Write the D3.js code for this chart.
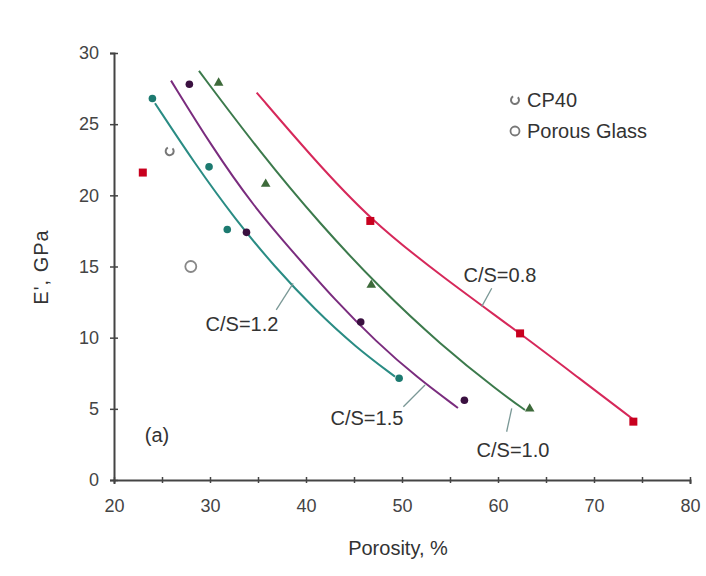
<!DOCTYPE html>
<html><head><meta charset="utf-8">
<script src="https://cdn.jsdelivr.net/npm/d3@7"></script>
<style>body{margin:0;background:#fff}svg{display:block}text{font-family:"Liberation Sans",Arial,sans-serif;fill:#333}</style>
</head><body><svg id="c" width="706" height="576"></svg>
<script>
// ---- data ----
const xTickValues = [20,25,30,35,40,45,50,55,60,65,70,75,80];
const yTickValues = [0,5,10,15,20,25,30];
// measured points [porosity %, E' GPa]
const pointsCS08 = [[23.0,21.6],[46.7,18.2],[62.3,10.3],[74.1,4.1]];
const pointsCS10 = [[30.9,27.9],[35.8,20.8],[46.8,13.7],[63.3,5.0]];
const pointsCS12 = [[24.0,26.8],[29.9,22.0],[31.8,17.6],[49.7,7.15]];
const pointsCS15 = [[27.85,27.8],[33.8,17.4],[45.7,11.1],[56.5,5.6]];
const pointsCP40 = [[25.8,23.1]];
const pointsGlass = [[28.0,15.0]];
// fitted curves
const curveCS08 = [[34.86,27.22],[40.42,22.84],[46.74,18.22],[54.48,14.13],[62.29,10.31],[68.54,7.10],[74.17,4.22]];
const curveCS10 = [[28.85,28.74],[35.21,23.03],[41.46,17.98],[47.71,13.48],[53.96,9.54],[60.21,6.16],[62.81,4.92]];
const curveCS12 = [[24.27,26.47],[28.44,22.20],[32.60,18.34],[36.77,14.95],[40.94,11.96],[45.10,9.38],[49.27,7.26]];
const curveCS15 = [[25.94,28.06],[30.21,23.40],[34.48,19.28],[38.75,15.93],[43.02,12.64],[47.29,9.73],[51.56,7.20],[55.83,5.06]];
// annotations: label text, label centre, leader start, leader end (data units)
const labels = [
  {t:"C/S=0.8", c:[60.2,14.4], a:[58.3,12.18], b:[59.35,13.47]},
  {t:"C/S=1.2", c:[33.33,10.96], a:[36.9,11.95], b:[38.66,13.82]},
  {t:"C/S=1.5", c:[46.35,4.36], a:[50.14,5.15], b:[52.4,6.68]},
  {t:"C/S=1.0", c:[61.56,2.11], a:[60.9,3.39], b:[61.43,5.04]}
];
const panelLabel = {t:"(a)", c:[24.48,3.16]};
const legendItems = ["CP40","Porous Glass"];

// ---- drawing ----
const svg = d3.select("#c");
const x = d3.scaleLinear().domain([20,80]).range([114,690]);
const y = d3.scaleLinear().domain([0,30]).range([480,53]);

const axisCol = "#444";
// y axis
const gy = svg.append("g").attr("transform","translate(114,0)")
  .call(d3.axisLeft(y).tickValues(yTickValues).tickSize(4).tickPadding(11));
gy.select(".domain").attr("stroke",axisCol).attr("stroke-width",2);
gy.selectAll(".tick line").attr("x1",-4).attr("x2",4).attr("stroke",axisCol).attr("stroke-width",1.5);
gy.selectAll(".tick text").attr("font-size",18).style("fill","#444").attr("font-family","Liberation Sans, Arial, sans-serif");
// x axis
const gx = svg.append("g").attr("transform","translate(0,480)")
  .call(d3.axisBottom(x).tickValues(xTickValues).tickSize(4).tickPadding(15)
    .tickFormat(d => d % 10 === 0 ? d : ""));
gx.select(".domain").attr("stroke",axisCol).attr("stroke-width",2);
gx.selectAll(".tick line").attr("y1",-3).attr("y2",3).attr("stroke",axisCol).attr("stroke-width",1.5);
gx.selectAll(".tick text").attr("font-size",18).style("fill","#444").attr("font-family","Liberation Sans, Arial, sans-serif");

svg.append("text").attr("x",398).attr("y",555).attr("text-anchor","middle")
  .attr("font-size",20).text("Porosity, %");
svg.append("text").attr("transform","translate(48,267) rotate(-90)").attr("text-anchor","middle")
  .attr("font-size",20).attr("letter-spacing",1).text("E', GPa");

// curves
const line = d3.line().x(d=>x(d[0])).y(d=>y(d[1])).curve(d3.curveBasis);
const curves = [
  [curveCS08,"#d6285a"],[curveCS10,"#3c7a4c"],[curveCS12,"#2a8c84"],[curveCS15,"#7a2c7e"]
];
curves.forEach(([d,c]) => svg.append("path").datum(d).attr("d",line)
  .attr("fill","none").attr("stroke",c).attr("stroke-width",2));

// leaders & labels
labels.forEach(l => {
  svg.append("line").attr("x1",x(l.a[0])).attr("y1",y(l.a[1])).attr("x2",x(l.b[0])).attr("y2",y(l.b[1]))
    .attr("stroke","#7a9896").attr("stroke-width",1.3);
  svg.append("text").attr("x",x(l.c[0])).attr("y",y(l.c[1])).attr("dy","0.35em")
    .attr("text-anchor","middle").attr("font-size",20).text(l.t);
});
svg.append("text").attr("x",x(panelLabel.c[0])).attr("y",y(panelLabel.c[1])).attr("dy","0.35em")
  .attr("text-anchor","middle").attr("font-size",20).text(panelLabel.t);

// markers
svg.selectAll(".sq").data(pointsCS08).join("rect")
  .attr("x",d=>x(d[0])-4).attr("y",d=>y(d[1])-4).attr("width",8).attr("height",8).attr("fill","#c8001e");
const tri = d3.symbol().type(d3.symbolTriangle).size(40);
svg.selectAll(".tr").data(pointsCS10).join("path")
  .attr("d",tri).attr("transform",d=>`translate(${x(d[0])},${y(d[1])})`).attr("fill","#3d6a3a");
svg.selectAll(".c12").data(pointsCS12).join("circle")
  .attr("cx",d=>x(d[0])).attr("cy",d=>y(d[1])).attr("r",3.8).attr("fill","#1c7a70");
svg.selectAll(".c15").data(pointsCS15).join("circle")
  .attr("cx",d=>x(d[0])).attr("cy",d=>y(d[1])).attr("r",3.8).attr("fill","#3a1040");

const cArc = d3.arc().innerRadius(4).outerRadius(4).startAngle(Math.PI*0.25).endAngle(Math.PI*1.85);
function drawCP40(g, cx, cy){
  g.append("path").attr("d",cArc()).attr("transform",`translate(${cx},${cy})`)
    .attr("fill","none").attr("stroke","#777").attr("stroke-width",2);
}
pointsCP40.forEach(d => drawCP40(svg, x(d[0]), y(d[1])));
svg.selectAll(".gl").data(pointsGlass).join("circle")
  .attr("cx",d=>x(d[0])).attr("cy",d=>y(d[1])).attr("r",5.5).attr("fill","none").attr("stroke","#888").attr("stroke-width",1.8);

// legend
drawCP40(svg, 515, 100);
svg.append("circle").attr("cx",515).attr("cy",131).attr("r",4.5).attr("fill","none").attr("stroke","#777").attr("stroke-width",1.8);
legendItems.forEach((t,i)=> svg.append("text").attr("x",527).attr("y",100+i*31).attr("dy","0.35em")
  .attr("font-size",20).text(t));
</script></body></html>
